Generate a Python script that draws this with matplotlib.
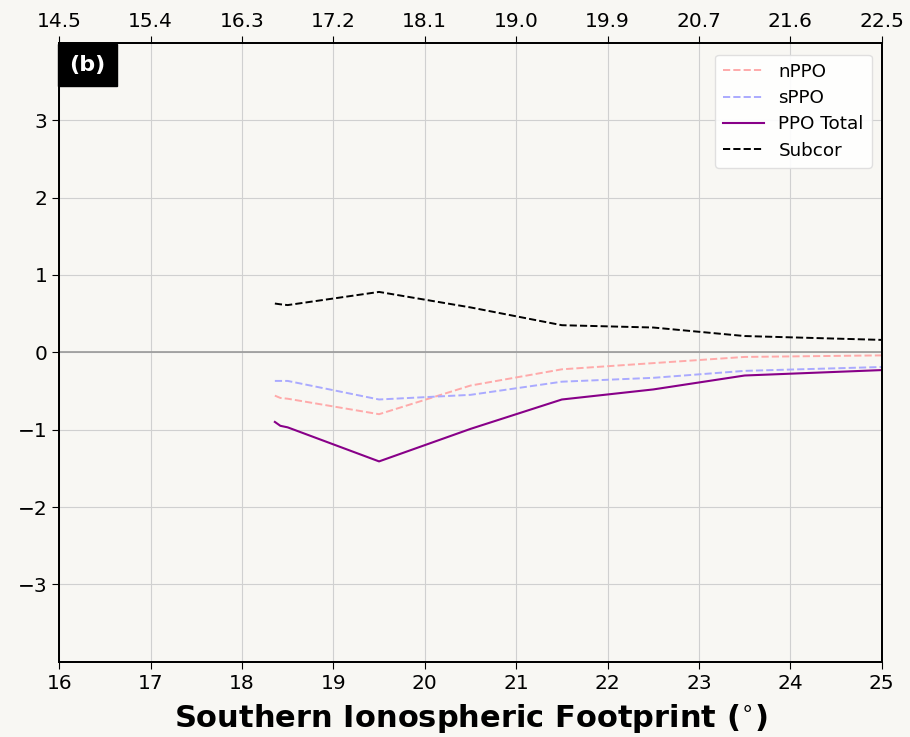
import numpy as np
import matplotlib
matplotlib.use("Agg")
import matplotlib.pyplot as plt

# southern footprint latitude (deg) and current contributions (MA)
lat = [18.36, 18.42, 18.5, 19.5, 20.5, 21.5, 22.5, 23.5, 25.0]
nppo = [-0.56, -0.59, -0.60, -0.80, -0.43, -0.22, -0.14, -0.06, -0.04]
sppo = [-0.37, -0.37, -0.37, -0.61, -0.55, -0.38, -0.33, -0.24, -0.19]
ppo_total = [-0.90, -0.95, -0.97, -1.41, -0.99, -0.61, -0.48, -0.30, -0.23]
subcor = [0.63, 0.62, 0.61, 0.78, 0.58, 0.35, 0.32, 0.21, 0.16]

bottom_ticks = [16, 17, 18, 19, 20, 21, 22, 23, 24, 25]
top_labels = ["14.5", "15.4", "16.3", "17.2", "18.1", "19.0", "19.9", "20.7", "21.6", "22.5"]
y_ticks = [-3, -2, -1, 0, 1, 2, 3]

bg = "#f8f7f3"
fig = plt.figure(figsize=(9.1, 7.37), dpi=100, facecolor=bg)
ax = fig.add_axes([0.065, 0.102, 0.904, 0.840])
ax.set_facecolor(bg)

ax.axhline(0, color="#999999", lw=1.2, zorder=1)
ax.plot(lat, nppo, ls="--", color="#ffaaaa", lw=1.4, label="nPPO")
ax.plot(lat, sppo, ls="--", color="#aaaaff", lw=1.4, label="sPPO")
ax.plot(lat, ppo_total, ls="-", color="#880088", lw=1.5, label="PPO Total")
ax.plot(lat, subcor, ls="--", color="black", lw=1.4, label="Subcor")

ax.set_xlim(16, 25)
ax.set_ylim(-4, 4)
ax.set_xticks(bottom_ticks)
ax.set_yticks(y_ticks)
ax.tick_params(labelsize=14.5, length=5)
ax.grid(True, color="#d0d0d0", lw=0.8)
ax.set_axisbelow(True)
ax.set_xlabel("Southern Ionospheric Footprint ($^{\\circ}$)", fontsize=22,
              fontweight="bold", labelpad=7)

top = ax.twiny()
top.set_xlim(ax.get_xlim())
top.set_xticks(bottom_ticks)
top.set_xticklabels(top_labels)
top.tick_params(labelsize=14.5, length=5)
for sp in top.spines.values():
    sp.set_linewidth(1.3)

for sp in ax.spines.values():
    sp.set_linewidth(1.3)

# panel tag, box flush with the upper-left corner
ax.annotate("(b)", xy=(0, 1), xycoords="axes fraction",
            xytext=(7.5, -9), textcoords="offset points", ha="left", va="top",
            fontsize=16, fontweight="bold", color="white",
            bbox=dict(boxstyle="square,pad=0.5", facecolor="black", edgecolor="black"))

leg = ax.legend(loc="upper right", fontsize=13.2, frameon=True, fancybox=True,
                framealpha=0.9, borderpad=0.45, labelspacing=0.45, handlelength=2.2,
                handletextpad=0.8, borderaxespad=0, bbox_to_anchor=(0.988, 0.981))
leg.get_frame().set_facecolor("white")
leg.get_frame().set_edgecolor("#dddddd")

fig.savefig("out.png", dpi=100, facecolor=bg)
